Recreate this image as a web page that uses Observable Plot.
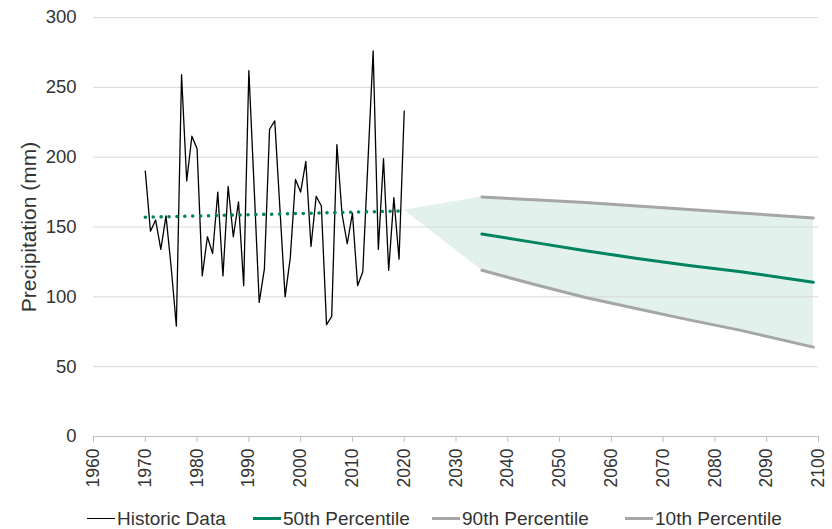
<!DOCTYPE html>
<html>
<head>
<meta charset="utf-8">
<script src="https://cdn.jsdelivr.net/npm/d3@7"></script>
<script src="https://cdn.jsdelivr.net/npm/@observablehq/plot@0.6"></script>
<style>
  html, body { margin: 0; padding: 0; background: #fff; }
  body { width: 832px; height: 529px; overflow: hidden; font-family: "Liberation Sans", Arial, sans-serif; }
  #legend { position: relative; height: 21px; font-size: 19px; color: #333; }
  .item { position: absolute; top: 0; display: flex; align-items: center; height: 21px; }
  .sw { display: inline-block; width: 28px; margin-right: 2px; }
</style>
</head>
<body>
<div id="chart"></div>
<div id="legend"></div>
<script>
// Historic data (annual precipitation, mm)
const histYears = d3.range(1970, 2021);
const histValues = [190, 147, 155, 134, 158, 121, 79, 259, 183, 215,
  206, 115, 143, 131, 175, 115, 179, 143, 168, 108,
  262, 180, 96, 120, 220, 226, 163, 100, 128, 184,
  175, 197, 136, 172, 165, 80, 86, 209, 159, 138,
  160, 108, 118, 197, 276, 134, 199, 119, 171, 127,
  233];
// Linear trend of historic data
const trendYears = [1970, 2020];
const trendValues = [157, 161.5];
// Projections
const projYears = [2035, 2045, 2055, 2065, 2075, 2085, 2099];
const p50 = [145, 139, 133, 127.5, 122.5, 118, 110.5];
const p90 = [171.5, 169.5, 167.5, 165, 162.5, 160, 156.5];
const p10 = [119, 109, 99.5, 91.5, 83.5, 76, 64];
// Shaded range (starts from end of trend)
const bandYears = [2020, ...projYears];
const bandLow = [162, ...p10];
const bandHigh = [162, ...p90];

const xTicks = d3.range(1960, 2101, 10);
const yTicks = d3.range(0, 301, 50);
const legendItems = [
  {label: "Historic Data", color: "#000000", width: 1.3, left: 87},
  {label: "50th Percentile", color: "#00845f", width: 3.5, left: 253},
  {label: "90th Percentile", color: "#a6a6a6", width: 3.5, left: 432},
  {label: "10th Percentile", color: "#a6a6a6", width: 3.5, left: 625}
];

const hist = histYears.map((y, i) => ({year: y, value: histValues[i]}));
const trend = trendYears.map((y, i) => ({year: y, value: trendValues[i]}));
const proj = projYears.map((y, i) => ({year: y, p50: p50[i], p90: p90[i], p10: p10[i]}));
const band = bandYears.map((y, i) => ({year: y, low: bandLow[i], high: bandHigh[i]}));

const green = "#00845f";
const gray = "#a6a6a6";

const chart = Plot.plot({
  width: 832,
  height: 508,
  marginTop: 17,
  marginBottom: 72,
  marginLeft: 93,
  marginRight: 14,
  style: {fontFamily: "Liberation Sans, Arial, sans-serif", color: "#333", background: "#fff"},
  x: {domain: [1960, 2100]},
  y: {domain: [0, 300]},
  marks: [
    Plot.areaY(band, {x: "year", y1: "low", y2: "high", fill: "#e2f1ec"}),
    Plot.ruleY(yTicks.filter(d => d > 0), {stroke: "#d9d9d9", strokeWidth: 1}),
    Plot.ruleY([0], {stroke: "#bfbfbf", strokeWidth: 1}),
    Plot.axisX({ticks: xTicks, tickFormat: d => String(d), tickRotate: -90, tickSize: 6, tickPadding: 6,
      fontSize: 17.5, stroke: "#bfbfbf", fill: "#333", label: null}),
    Plot.axisY({ticks: yTicks, tickSize: 0, tickPadding: 17, fontSize: 18.5, fill: "#333", label: null}),
    Plot.text(["Precipitation (mm)"], {frameAnchor: "left", textAnchor: "middle", rotate: -90, dx: -64, fontSize: 21, fill: "#333"}),
    Plot.line(hist, {x: "year", y: "value", stroke: "#000", strokeWidth: 1.3}),
    Plot.line(trend, {x: "year", y: "value", stroke: green, strokeWidth: 3.5, strokeDasharray: "0.1 7.8", strokeLinecap: "round"}),
    Plot.line(proj, {x: "year", y: "p90", stroke: gray, strokeWidth: 3}),
    Plot.line(proj, {x: "year", y: "p10", stroke: gray, strokeWidth: 3}),
    Plot.line(proj, {x: "year", y: "p50", stroke: green, strokeWidth: 3})
  ]
});
document.getElementById("chart").appendChild(chart);

const legend = document.getElementById("legend");
for (const it of legendItems) {
  const item = document.createElement("div");
  item.className = "item";
  item.style.left = it.left + "px";
  const sw = document.createElement("span");
  sw.className = "sw";
  sw.style.height = it.width + "px";
  sw.style.background = it.color;
  item.appendChild(sw);
  const t = document.createElement("span");
  t.textContent = it.label;
  item.appendChild(t);
  legend.appendChild(item);
}
</script>
</body>
</html>
